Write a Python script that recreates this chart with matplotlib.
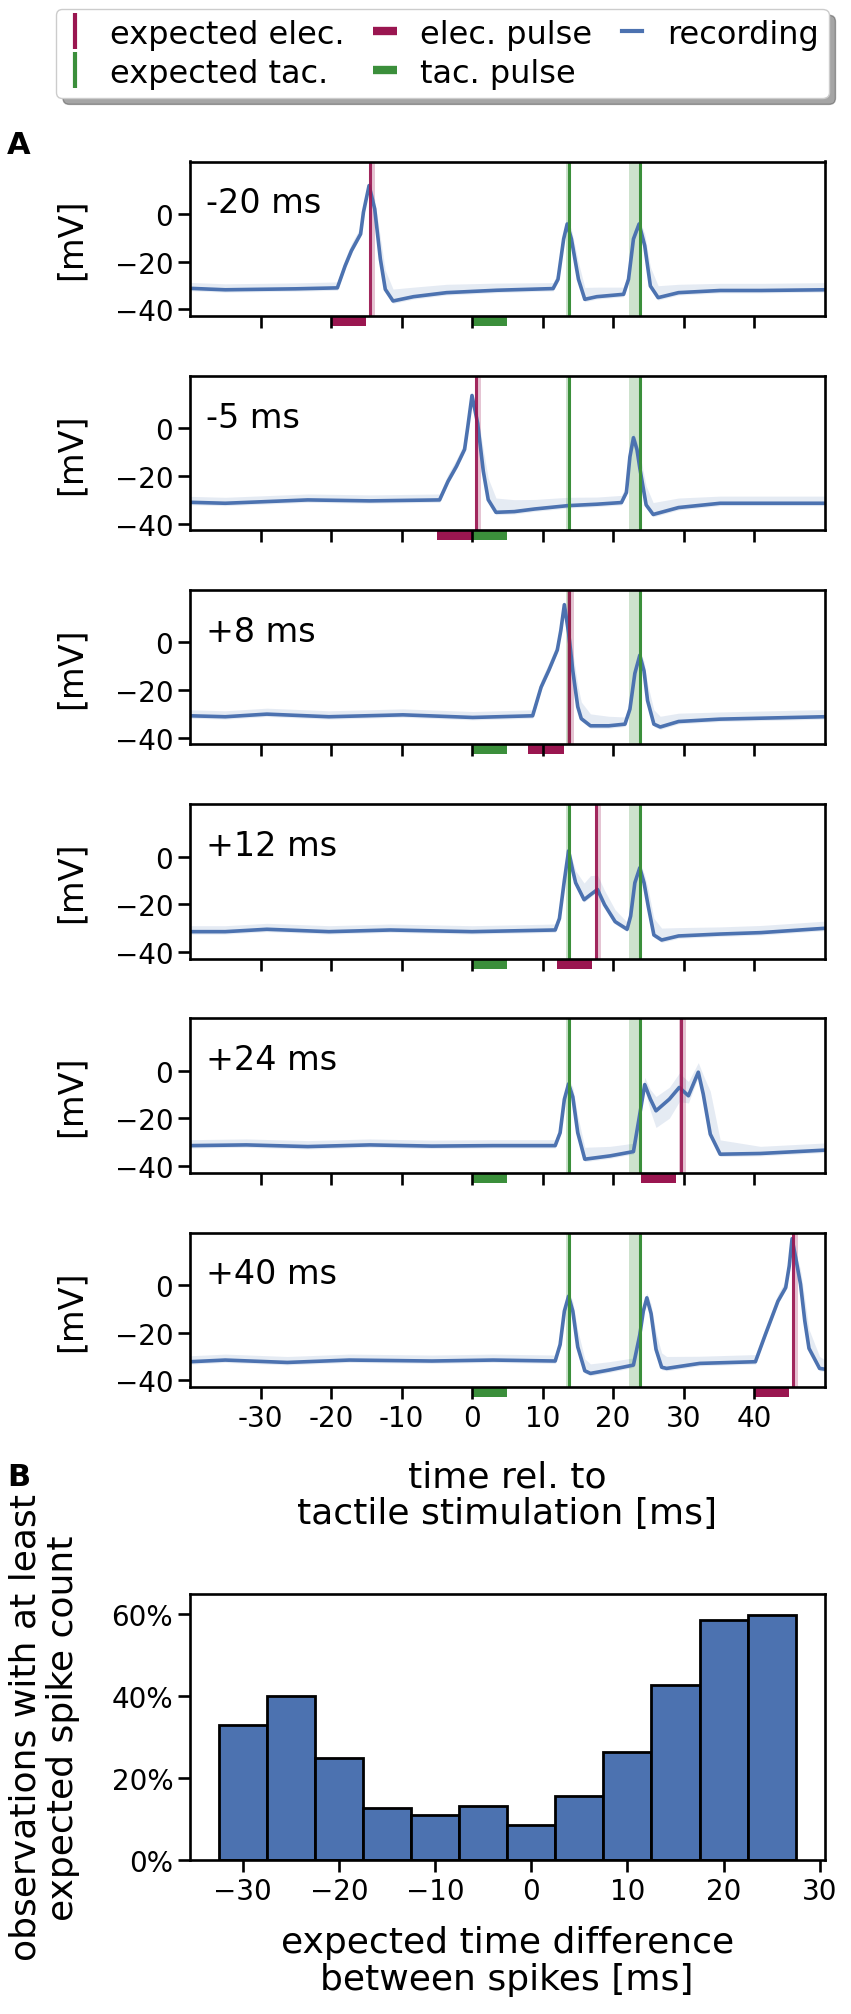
import numpy as np
import matplotlib
matplotlib.use("Agg")
import matplotlib.pyplot as plt
from matplotlib.lines import Line2D
from matplotlib.ticker import PercentFormatter

plt.rcParams['font.family'] = ['DejaVu Sans']

# colours
c_rec = '#4c72b0'
c_elec = '#9a1650'
c_tac = '#3b8f3b'

# panel A: timing of stimulation
panel_labels = ['-20 ms', '-5 ms', '+8 ms', '+12 ms', '+24 ms', '+40 ms']
elec_onset = [-20, -5, 8, 12, 24, 40]
pulse_len = 5
tac_onset = 0
expected_elec = [-14.4, 0.6, 13.7, 17.65, 29.6, 45.6]
expected_tac = [13.7, 23.9]
tac_band = [(13.4, 14.0), (22.3, 24.1)]

# mean recordings (time [ms], voltage [mV]) and spread of single trials above / below
t1 = [-40, -35, -30, -25, -19.1, -18.0, -17.1, -15.8, -15.4, -14.6, -13.8, -13.0, -12.3, -11.2, -8.3, -3.6, 3.5,
      11.5, 12.2, 13.0, 13.5, 14.1, 15.1, 16.0, 17.7, 21.5, 22.2, 22.9, 23.7, 24.5, 25.3, 26.4, 29.3, 35.2, 41, 50]
v1 = [-31.2, -31.8, -31.6, -31.4, -31.0, -21.8, -15.4, -8.4, 0.7, 11.9, 2.1, -18.9, -31.6, -36.5, -34.7, -33.0,
      -32.0, -31.3, -27.4, -10.5, -4.2, -10.5, -27.4, -35.8, -34.7, -33.7, -27.4, -10.5, -4.2, -13.3, -30.2, -35.1,
      -33.0, -32.1, -32.1, -31.8]
up1 = [2.5, 2.5, 2.5, 2.5, 2.5, 3, 3, 3, 2.5, 1.5, 4, 9, 8, 5, 4, 3.5, 3, 2.5, 3, 3, 2, 4, 7, 5, 4, 3, 3, 3, 2, 5,
       8, 5, 3.5, 3, 3, 3]
lo1 = [1, 1, 1, 1, 1, 1, 1, 1, 1, 1, 1, 1, 1, 1, 1, 1, 1, 1, 1, 1, 1, 1, 1, 1, 1, 1, 1, 1, 1, 1, 1, 1, 1, 1, 1, 1]

t2 = [-40, -35, -23.3, -14.5, -4.6, -3.4, -2.2, -1.05, -0.6, 0, 0.8, 1.6, 2.3, 3.4, 6, 8.9, 13.6, 17.7, 21.2,
      21.9, 22.4, 22.9, 23.4, 23.8, 24.7, 25.7, 29.3, 35.2, 50]
v2 = [-31.1, -31.5, -30.1, -30.5, -30.1, -22.3, -16.0, -8.9, 0.5, 13.7, 2.0, -18.0, -30.0, -35.3, -35.0, -33.9,
      -32.5, -31.9, -31.2, -27.0, -12.0, -4.0, -9.0, -16.7, -32.2, -36.2, -33.3, -31.5, -31.5]
up2 = [2.5, 2.5, 2.5, 2.5, 2.5, 3, 3, 3, 2.5, 1.5, 4, 9, 9, 6, 5, 4, 3.5, 3, 3, 3, 2.5, 2, 3, 6, 8, 5, 4, 3, 3]
lo2 = [1, 1, 1, 1, 1, 1, 1, 1, 1, 1, 1, 1, 1, 1, 1, 1, 1, 1, 1, 1, 1, 1, 1, 1, 1, 1, 1, 1, 1]

t3 = [-40, -35, -29.1, -20.3, -9.8, 0.1, 8.6, 9.8, 10.9, 12.1, 12.6, 13.1, 13.7, 14.3, 15.0, 15.5, 16.8, 19.4,
      21.7, 22.4, 23.1, 23.8, 24.4, 24.9, 25.8, 26.7, 29.3, 35.2, 50]
v3 = [-30.8, -31.2, -30.1, -31.2, -30.4, -31.5, -30.8, -18.8, -11.7, -3.2, 5.0, 15.8, 4.0, -12.0, -27.0, -32.0,
      -35.0, -35.0, -34.3, -28.0, -13.0, -5.4, -12.0, -24.4, -34.3, -35.5, -33.2, -32.2, -31.2]
up3 = [2.5, 2.5, 2.5, 2.5, 2.5, 2.5, 2.5, 3, 3, 3, 2.5, 1.5, 4, 8, 9, 7, 5, 4, 3, 3, 2.5, 2, 4, 7, 6, 4.5, 3.5, 3, 3]
lo3 = [1, 1, 1, 1, 1, 1, 1, 1, 1, 1, 1, 1, 1, 1, 1, 1, 1, 1, 1, 1, 1, 1, 1, 1, 1, 1, 1, 1, 1]

t4 = [-40, -35, -29.1, -20.3, -11.6, 0, 11.8, 12.4, 13.1, 13.7, 14.3, 14.7, 15.9, 16.8, 17.8, 18.8, 20.3, 22.0,
      22.5, 23.1, 23.8, 24.4, 25.0, 25.8, 26.9, 29.3, 35.2, 41, 50]
v4 = [-31.5, -31.5, -30.5, -31.5, -30.8, -31.5, -30.8, -26.0, -10.0, 2.4, -6.0, -11.0, -18.1, -16.0, -13.8, -20.2,
      -27.3, -30.5, -25.0, -11.0, -4.7, -11.0, -20.9, -32.9, -35.0, -33.3, -32.5, -31.9, -30.1]
up4 = [2.5, 2.5, 2.5, 2.5, 2.5, 2.5, 2.5, 3, 2.5, 2, 4, 5, 7, 8, 6, 6, 5, 3, 3, 2.5, 2, 4, 7, 7, 5, 3.5, 3, 3, 3]
lo4 = [1, 1, 1, 1, 1, 1, 1, 1, 1, 1, 1, 1, 1, 1, 1, 1, 1, 1, 1, 1, 1, 1, 1, 1, 1, 1, 1, 1, 1]

t5 = [-40, -32, -23.3, -14.5, -5.7, 3, 11.8, 12.5, 13.1, 13.7, 14.3, 15.0, 16.0, 19.6, 22.9, 23.8, 24.5, 25.3,
      26.1, 28.0, 29.4, 30.7, 32.1, 32.8, 33.8, 35.2, 40.9, 50]
v5 = [-31.4, -31.1, -31.8, -31.1, -31.6, -31.4, -31.4, -26.0, -12.0, -5.5, -11.0, -26.0, -37.1, -35.7, -33.9,
      -18.2, -5.8, -11.9, -16.8, -11.9, -7.0, -10.5, -0.6, -9.8, -26.6, -35.0, -34.7, -33.3]
up5 = [2.5, 2.5, 2.5, 2.5, 2.5, 2.5, 2.5, 3, 2.5, 2, 4, 7, 5, 4, 3.5, 4, 3, 4, 6, 5, 6, 6, 4, 8, 18, 6, 3, 3]
lo5 = [1, 1, 1, 1, 1, 1, 1, 1, 1, 1, 1, 1, 1, 1, 1, 1, 2, 5, 7, 8, 6, 3, 2, 1, 1, 1, 1, 1]

t6 = [-40, -35, -26.2, -17.4, -5.7, 3, 11.8, 12.5, 13.1, 13.7, 14.3, 15.0, 16.0, 16.8, 19.4, 22.9, 23.8, 24.3,
      24.8, 25.4, 26.1, 26.9, 27.6, 32.3, 40.2, 41.6, 43.4, 44.5, 45.0, 45.4, 46.0, 46.6, 47.2, 47.8, 49.3, 50]
v6 = [-32.2, -31.5, -32.5, -31.5, -31.9, -31.5, -31.9, -25.0, -11.0, -4.7, -11.0, -26.0, -36.0, -37.1, -35.7,
      -33.6, -20.9, -11.0, -5.4, -12.0, -27.0, -34.5, -35.0, -32.9, -32.2, -20.9, -6.8, -1.1, 8.0, 19.4, 10.0, 0.3,
      -15.0, -26.6, -35.0, -35.3]
up6 = [2.5, 2.5, 2.5, 2.5, 2.5, 2.5, 2.5, 3, 2.5, 2, 4, 7, 5, 4, 3.5, 3, 5, 3, 2, 4, 7, 6, 5, 3, 3, 3, 3, 3, 2.5,
       1.5, 3, 6, 9, 8, 5, 4]
lo6 = [1, 1, 1, 1, 1, 1, 1, 1, 1, 1, 1, 1, 1, 1, 1, 1, 1, 1, 1, 1, 1, 1, 1, 1, 1, 1, 1, 1, 1, 1, 1, 1, 1, 1, 1, 1]

traces = [(t1, v1, up1, lo1), (t2, v2, up2, lo2), (t3, v3, up3, lo3),
          (t4, v4, up4, lo4), (t5, v5, up5, lo5), (t6, v6, up6, lo6)]

xticks_a = [-30, -20, -10, 0, 10, 20, 30, 40]
xticklabels_a = ['-30', '-20', '-10', '0', '10', '20', '30', '40']

# panel B: histogram
bin_centers = [-30, -25, -20, -15, -10, -5, 0, 5, 10, 15, 20, 25]
frac_obs = [0.33, 0.40, 0.248, 0.126, 0.11, 0.132, 0.086, 0.155, 0.264, 0.428, 0.585, 0.598]

W, H = 851, 2015
fig = plt.figure(figsize=(W / 100, H / 100), dpi=100)

ax_left = 190 / W
ax_w = 634.5 / W
panel_h = 154.5
first_top = 162.5
pitch = 214.2

axes = []
for k in range(6):
    top = first_top + pitch * k
    ax = fig.add_axes([ax_left, 1 - (top + panel_h) / H, ax_w, panel_h / H])
    axes.append(ax)

for k, ax in enumerate(axes):
    t, v, up, lo = traces[k]
    t = np.array(t)
    v = np.array(v)
    ax.fill_between(t, v - np.array(lo), v + np.array(up), color=c_rec, alpha=0.14, lw=0)
    ax.plot(t, v, color=c_rec, lw=2.6, solid_joinstyle='round')

    # expected tactile spikes
    for xt, (b0, b1) in zip(expected_tac, tac_band):
        ax.axvspan(b0, b1, color=c_tac, alpha=0.25, lw=0)
        ax.axvline(xt, color=c_tac, lw=2.2)
    # expected electrical spike
    xe = expected_elec[k]
    ax.axvspan(xe - 0.2, xe + 0.7, color=c_elec, alpha=0.25, lw=0)
    ax.axvline(xe, color=c_elec, lw=2.2, alpha=0.9)

    # stimulation pulses below the axis
    ax.axvspan(tac_onset, tac_onset + pulse_len, ymin=-0.065, ymax=0, color=c_tac, clip_on=False, lw=0)
    ax.axvspan(elec_onset[k], elec_onset[k] + pulse_len, ymin=-0.065, ymax=0, color=c_elec,
               clip_on=False, lw=0)

    ax.set_xlim(-40, 50)
    ax.set_ylim(-42.8, 22)
    ax.set_yticks([-40, -20, 0])
    ax.set_xticks(xticks_a)
    if k == 5:
        ax.set_xticklabels(xticklabels_a)
    else:
        ax.set_xticklabels([])
    ax.tick_params(labelsize=20, length=8.6, width=1.9)
    for sp in ax.spines.values():
        sp.set_linewidth(1.9)
    ax.set_ylabel('[mV]', fontsize=24)
    ax.yaxis.set_label_coords(-0.161, 0.5)
    ax.text(0.025, 0.671, panel_labels[k], transform=ax.transAxes, fontsize=24, va='baseline', ha='left')

axes[5].set_xlabel('time rel. to\ntactile stimulation [ms]', fontsize=26, linespacing=1.1)
axes[5].xaxis.set_label_coords(0.5, -0.47)

# histogram
axh = fig.add_axes([ax_left, 1 - 1861 / H, ax_w, 266 / H])
axh.bar(bin_centers, frac_obs, width=5, color=c_rec, edgecolor='black', lw=2)
axh.set_xlim(-35.5, 30.5)
axh.set_ylim(0, 0.649)
axh.set_yticks([0, 0.2, 0.4, 0.6])
axh.yaxis.set_major_formatter(PercentFormatter(1, decimals=0))
axh.set_xticks([-30, -20, -10, 0, 10, 20, 30])
axh.tick_params(labelsize=20, length=8.6, width=1.9)
for sp in axh.spines.values():
    sp.set_linewidth(1.9)
axh.set_ylabel('observations with at least\nexpected spike count', fontsize=26, linespacing=1.15)
axh.yaxis.set_label_coords(-0.173, 0.5)
axh.set_xlabel('expected time difference\nbetween spikes [ms]', fontsize=26, linespacing=1.1)
axh.xaxis.set_label_coords(0.5, -0.245)

fig.text(19 / W, 1 - 145 / H, 'A', fontsize=22, fontweight='bold', ha='center', va='center')
fig.text(19 / W, 1 - 1478 / H, 'B', fontsize=22, fontweight='bold', ha='center', va='center')

handles = [
    Line2D([], [], color=c_elec, marker='|', markersize=26, markeredgewidth=3, linestyle='None',
           label='expected elec.'),
    Line2D([], [], color=c_tac, marker='|', markersize=26, markeredgewidth=3, linestyle='None',
           label='expected tac.'),
    Line2D([], [], color=c_elec, marker='_', markersize=17, markeredgewidth=6, linestyle='None',
           label='elec. pulse'),
    Line2D([], [], color=c_tac, marker='_', markersize=17, markeredgewidth=6, linestyle='None',
           label='tac. pulse'),
    Line2D([], [], color=c_rec, lw=3, label='recording'),
]
fig.legend(handles=handles, loc='upper left', bbox_to_anchor=(56 / W, 1 - 10 / H), ncol=3,
           fontsize=23, handlelength=0.6, handletextpad=0.8, columnspacing=0.95, borderpad=0.3,
           labelspacing=0.25, borderaxespad=0, shadow={'ox': 5, 'oy': -4.5}, framealpha=1,
           edgecolor='0.8')

fig.savefig('out.png', dpi=100)
